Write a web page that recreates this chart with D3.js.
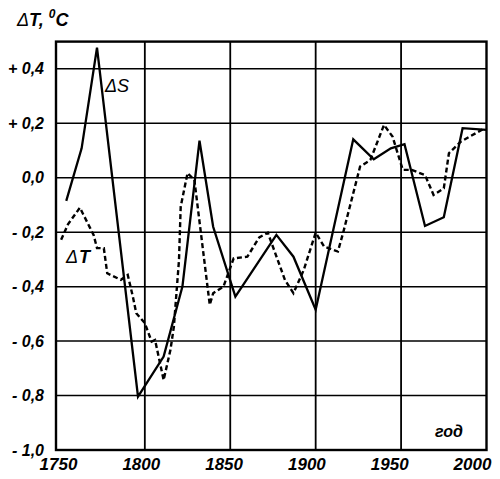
<!DOCTYPE html>
<html>
<head>
<meta charset="utf-8">
<script src="https://cdn.jsdelivr.net/npm/d3@7"></script>
<style>
  body { margin: 0; background: #fff; }
  svg text { font-family: "Liberation Sans", Arial, sans-serif; font-style: italic; font-weight: bold; fill: #000; }
</style>
</head>
<body>
<div id="chart"></div>
<script>
// ΔS curve (solid), years and temperature anomaly
const sYears = [1754, 1763, 1772, 1796, 1811, 1822, 1832, 1840, 1853, 1877, 1887, 1900, 1922, 1934, 1944, 1952, 1964, 1975, 1986, 2000];
const sValues = [-0.085, 0.108, 0.478, -0.804, -0.657, -0.400, 0.136, -0.180, -0.437, -0.210, -0.290, -0.485, 0.141, 0.068, 0.108, 0.123, -0.177, -0.145, 0.182, 0.176];

// ΔT curve (dashed)
const tYears = [1751, 1755, 1762, 1768, 1770, 1772, 1776, 1778, 1786, 1790, 1793, 1795, 1800, 1804, 1806, 1811, 1815, 1817, 1820, 1821, 1825, 1829, 1838, 1840, 1846, 1852, 1860, 1867, 1872, 1882, 1887, 1893, 1900, 1905, 1913, 1916, 1926, 1932, 1940, 1945, 1951, 1956, 1964, 1969, 1975, 1978, 1985, 1999];
const tValues = [-0.228, -0.171, -0.110, -0.185, -0.210, -0.258, -0.259, -0.351, -0.375, -0.357, -0.437, -0.498, -0.534, -0.602, -0.596, -0.743, -0.632, -0.547, -0.302, -0.106, 0.017, -0.008, -0.467, -0.424, -0.400, -0.296, -0.290, -0.219, -0.202, -0.375, -0.424, -0.339, -0.202, -0.253, -0.271, -0.204, 0.041, 0.065, 0.194, 0.151, 0.029, 0.029, 0.010, -0.063, -0.039, 0.090, 0.133, 0.182];

const yTicks = [0.4, 0.2, 0.0, -0.2, -0.4, -0.6, -0.8, -1.0];
const xTicks = [1750, 1800, 1850, 1900, 1950, 2000];
const xGrid = [1800, 1850, 1900, 1950];

const width = 500, height = 479;
const svg = d3.select("#chart").append("svg")
    .attr("width", width)
    .attr("height", height);

// scales
const x = d3.scaleLinear().domain([1748, 2000]).range([56, 486.5]);
const xLab = d3.scaleLinear().domain([1750, 2000]).range([58, 472]);
const y = d3.scaleLinear().domain([-1, 0.5]).range([450, 41.6]);

// grid lines
svg.append("g").selectAll("line.h")
    .data(yTicks.filter(d => d > -1))
    .enter().append("line")
    .attr("x1", x(1748)).attr("x2", x(2000))
    .attr("y1", d => y(d)).attr("y2", d => y(d))
    .attr("stroke", "#000").attr("stroke-width", 1.5);

svg.append("g").selectAll("line.v")
    .data(xGrid)
    .enter().append("line")
    .attr("x1", d => x(d)).attr("x2", d => x(d))
    .attr("y1", y(0.5)).attr("y2", y(-1))
    .attr("stroke", "#000").attr("stroke-width", 1.8);

// frame
svg.append("rect")
    .attr("x", x(1748)).attr("y", y(0.5))
    .attr("width", x(2000) - x(1748))
    .attr("height", y(-1) - y(0.5))
    .attr("fill", "none")
    .attr("stroke", "#000")
    .attr("stroke-width", 2.4);

// lines
const line = d3.line()
    .x(d => x(d[0]))
    .y(d => y(d[1]));

svg.append("path")
    .datum(tYears.map((d, i) => [d, tValues[i]]))
    .attr("d", line)
    .attr("fill", "none")
    .attr("stroke", "#000")
    .attr("stroke-width", 2.4)
    .attr("stroke-dasharray", "5,3");

svg.append("path")
    .datum(sYears.map((d, i) => [d, sValues[i]]))
    .attr("d", line)
    .attr("fill", "none")
    .attr("stroke", "#000")
    .attr("stroke-width", 2.3)
    .attr("stroke-linejoin", "miter");

// y axis labels
const yAxis = d3.axisLeft(y)
    .tickValues(yTicks)
    .tickSize(0)
    .tickPadding(0)
    .tickFormat(d => (d > 0 ? "+ " : d < 0 ? "- " : "") + Math.abs(d).toFixed(1).replace(".", ","));
svg.append("g")
    .attr("transform", "translate(44,0)")
    .call(yAxis)
    .call(g => g.select(".domain").remove())
    .selectAll("text")
    .attr("font-size", 16)
    .attr("font-family", null);

// x axis labels
const xAxis = d3.axisBottom(xLab)
    .tickValues(xTicks)
    .tickSize(0)
    .tickPadding(0)
    .tickFormat(d3.format("d"));
svg.append("g")
    .attr("transform", "translate(0,458)")
    .call(xAxis)
    .call(g => g.select(".domain").remove())
    .selectAll("text")
    .attr("font-size", 17)
    .attr("font-family", null);

// title
const title = svg.append("text")
    .attr("x", 17).attr("y", 26)
    .attr("font-size", 18);
title.append("tspan").text("Δ").attr("font-weight", "normal");
title.append("tspan").text("T, ");
title.append("tspan").text("0").attr("font-size", 12).attr("dy", -8);
title.append("tspan").text("C").attr("dy", 8);

// series labels
const sLab = svg.append("text").attr("x", 105).attr("y", 92).attr("font-size", 18);
sLab.append("tspan").text("Δ").attr("font-weight", "normal");
sLab.append("tspan").text("S").attr("font-weight", "normal");

const tLab = svg.append("text").attr("x", 66).attr("y", 263)
    .attr("font-size", 18).attr("letter-spacing", 1);
tLab.append("tspan").text("Δ").attr("font-weight", "normal");
tLab.append("tspan").text("T");

svg.append("text")
    .attr("x", 435).attr("y", 437)
    .attr("font-size", 16)
    .text("год");
</script>
</body>
</html>
